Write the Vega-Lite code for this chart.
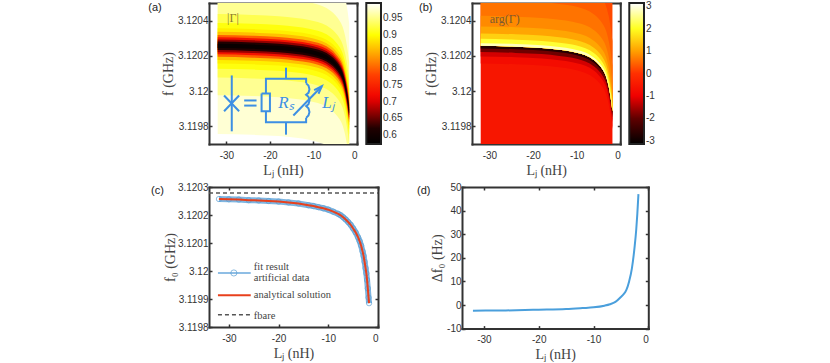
{"$schema":"https://vega.github.io/schema/vega-lite/v6.json","background":"white","padding":{"left":148,"top":2,"right":0,"bottom":0},"spacing":5,
"config":{"view":{"stroke":null},"axis":{"domainColor":"#333","domainWidth":2,"domainCap":"square","tickColor":"#333","tickWidth":1.5,"tickSize":-3,"grid":false,"labelFont":"Liberation Sans","labelFontSize":10,"labelColor":"#333","titleFont":"Liberation Serif","titleFontSize":14,"titleFontWeight":"normal","titleColor":"#444","labelPadding":4,"titlePadding":2,"zindex":1},"axisBottom":{"labelPadding":9,"titlePadding":3},"legend":{"labelFont":"Liberation Sans","labelFontSize":10,"labelColor":"#333"},"title":{"font":"Liberation Sans","fontSize":11,"fontWeight":"normal","color":"#222"}},
"datasets":{
"curve":[{"L":-32,"f":3.120257},{"L":-30,"f":3.120256},{"L":-28,"f":3.120255},{"L":-26,"f":3.120253},{"L":-24,"f":3.120252},{"L":-22,"f":3.12025},{"L":-20,"f":3.120248},{"L":-18,"f":3.120245},{"L":-16,"f":3.120241},{"L":-14,"f":3.120235},{"L":-13,"f":3.120232},{"L":-12,"f":3.120228},{"L":-11,"f":3.120224},{"L":-10,"f":3.120219},{"L":-9,"f":3.120212},{"L":-8,"f":3.120204},{"L":-7.5,"f":3.120199},{"L":-7,"f":3.120192},{"L":-6.5,"f":3.120184},{"L":-6,"f":3.120175},{"L":-5.5,"f":3.120165},{"L":-5,"f":3.120152},{"L":-4.5,"f":3.120138},{"L":-4,"f":3.12012},{"L":-3.7,"f":3.120107},{"L":-3.4,"f":3.120091},{"L":-3.1,"f":3.12007},{"L":-2.9,"f":3.120054},{"L":-2.7,"f":3.120033},{"L":-2.5,"f":3.12001},{"L":-2.35,"f":3.119992},{"L":-2.2,"f":3.119968},{"L":-2.05,"f":3.119938},{"L":-1.9,"f":3.119905},{"L":-1.8,"f":3.119885}],
"circuit":[
{"g":"j1","i":0,"L":-28.77,"f":3.120089},{"g":"j1","i":1,"L":-28.77,"f":3.119772},
{"g":"j2","i":0,"L":-30.54,"f":3.119975},{"g":"j2","i":1,"L":-27.08,"f":3.119886},
{"g":"j3","i":0,"L":-30.54,"f":3.119886},{"g":"j3","i":1,"L":-27.08,"f":3.119975},
{"g":"e1","i":0,"L":-25.92,"f":3.119947},{"g":"e1","i":1,"L":-23.08,"f":3.119947},
{"g":"e2","i":0,"L":-25.92,"f":3.119918},{"g":"e2","i":1,"L":-23.08,"f":3.119918},
{"g":"r","i":0,"L":-21.92,"f":3.119987},{"g":"r","i":1,"L":-20,"f":3.119987},{"g":"r","i":2,"L":-20,"f":3.119886},{"g":"r","i":3,"L":-21.92,"f":3.119886},{"g":"r","i":4,"L":-21.92,"f":3.119987},
{"g":"w1","i":0,"L":-20.92,"f":3.119987},{"g":"w1","i":1,"L":-20.92,"f":3.12007},{"g":"w1","i":2,"L":-11.69,"f":3.12007},{"g":"w1","i":3,"L":-11.69,"f":3.120044},
{"g":"w2","i":0,"L":-20.92,"f":3.119886},{"g":"w2","i":1,"L":-20.92,"f":3.119824},{"g":"w2","i":2,"L":-11.69,"f":3.119824},{"g":"w2","i":3,"L":-11.69,"f":3.119848},
{"g":"s1","i":0,"L":-16.31,"f":3.120133},{"g":"s1","i":1,"L":-16.31,"f":3.12007},
{"g":"s2","i":0,"L":-16.31,"f":3.119824},{"g":"s2","i":1,"L":-16.31,"f":3.119753},
{"g":"c","i":0,"L":-11.69,"f":3.120044},{"g":"c","i":1,"L":-11.15,"f":3.120032},{"g":"c","i":2,"L":-10.92,"f":3.120011},{"g":"c","i":3,"L":-11.15,"f":3.11999},{"g":"c","i":4,"L":-11.69,"f":3.119979},{"g":"c","i":5,"L":-11.15,"f":3.119968},{"g":"c","i":6,"L":-10.92,"f":3.119947},{"g":"c","i":7,"L":-11.15,"f":3.119926},{"g":"c","i":8,"L":-11.69,"f":3.119915},{"g":"c","i":9,"L":-11.15,"f":3.119903},{"g":"c","i":10,"L":-10.92,"f":3.119882},{"g":"c","i":11,"L":-11.15,"f":3.119862},{"g":"c","i":12,"L":-11.69,"f":3.119848},
{"g":"a","i":0,"L":-14.62,"f":3.119862},{"g":"a","i":1,"L":-8.08,"f":3.120028},
{"g":"h","i":0,"L":-9.85,"f":3.120006},{"g":"h","i":1,"L":-8.08,"f":3.120028},{"g":"h","i":2,"L":-8.85,"f":3.119985}]
},
"vconcat":[
{"resolve":{"scale":{"color":"independent"},"legend":{"color":"independent"}},"hconcat":[
{"width":148,"height":141,"title":{"text":"(a)","anchor":"start","frame":"group","offset":-11,"dx":-60.7},
"encoding":{"x":{"field":"L","type":"quantitative","scale":{"domain":[-34,0],"nice":false,"zero":false},"axis":null},"y":{"field":"f","type":"quantitative","scale":{"domain":[3.1197,3.1205],"nice":false,"zero":false},"axis":null}},
"resolve":{"axis":{"x":"independent","y":"independent"}},
"layer":[
{"data":{"values":[
{"L":-32,"a":3.119757,"b":3.120757,"v":0.98},{"L":-24,"a":3.119752,"b":3.120752,"v":0.98},{"L":-18,"a":3.119745,"b":3.120745,"v":0.98},{"L":-14,"a":3.119735,"b":3.120735,"v":0.98},{"L":-11,"a":3.119724,"b":3.120724,"v":0.98},{"L":-9,"a":3.119712,"b":3.120712,"v":0.98},{"L":-7,"a":3.119692,"b":3.120692,"v":0.98},{"L":-6,"a":3.119675,"b":3.120675,"v":0.98},{"L":-5,"a":3.119652,"b":3.120652,"v":0.98},{"L":-4,"a":3.11962,"b":3.12062,"v":0.98},{"L":-3.3,"a":3.119585,"b":3.120585,"v":0.98},{"L":-2.7,"a":3.11953,"b":3.12053,"v":0.98},{"L":-2.2,"a":3.11946,"b":3.12046,"v":0.98},{"L":-1.8,"a":3.119385,"b":3.120385,"v":0.98},
{"L":-32,"a":3.119977,"b":3.120537,"v":0.955},{"L":-24,"a":3.119972,"b":3.120532,"v":0.955},{"L":-18,"a":3.119965,"b":3.120525,"v":0.955},{"L":-14,"a":3.119955,"b":3.120515,"v":0.955},{"L":-11,"a":3.119944,"b":3.120504,"v":0.955},{"L":-9,"a":3.119932,"b":3.120492,"v":0.955},{"L":-7,"a":3.119912,"b":3.120472,"v":0.955},{"L":-6,"a":3.119895,"b":3.120455,"v":0.955},{"L":-5,"a":3.119872,"b":3.120432,"v":0.955},{"L":-4,"a":3.11984,"b":3.1204,"v":0.955},{"L":-3.3,"a":3.119805,"b":3.120365,"v":0.955},{"L":-2.7,"a":3.11975,"b":3.12031,"v":0.955},{"L":-2.2,"a":3.11968,"b":3.12024,"v":0.955},{"L":-1.8,"a":3.119605,"b":3.120165,"v":0.955},
{"L":-32,"a":3.120077,"b":3.120437,"v":0.93},{"L":-24,"a":3.120072,"b":3.120432,"v":0.93},{"L":-18,"a":3.120065,"b":3.120425,"v":0.93},{"L":-14,"a":3.120055,"b":3.120415,"v":0.93},{"L":-11,"a":3.120044,"b":3.120404,"v":0.93},{"L":-9,"a":3.120032,"b":3.120392,"v":0.93},{"L":-7,"a":3.120012,"b":3.120372,"v":0.93},{"L":-6,"a":3.119995,"b":3.120355,"v":0.93},{"L":-5,"a":3.119972,"b":3.120332,"v":0.93},{"L":-4,"a":3.11994,"b":3.1203,"v":0.93},{"L":-3.3,"a":3.119905,"b":3.120265,"v":0.93},{"L":-2.7,"a":3.11985,"b":3.12021,"v":0.93},{"L":-2.2,"a":3.11978,"b":3.12014,"v":0.93},{"L":-1.8,"a":3.119705,"b":3.120065,"v":0.93},
{"L":-32,"a":3.120127,"b":3.120387,"v":0.905},{"L":-24,"a":3.120122,"b":3.120382,"v":0.905},{"L":-18,"a":3.120115,"b":3.120375,"v":0.905},{"L":-14,"a":3.120105,"b":3.120365,"v":0.905},{"L":-11,"a":3.120094,"b":3.120354,"v":0.905},{"L":-9,"a":3.120082,"b":3.120342,"v":0.905},{"L":-7,"a":3.120062,"b":3.120322,"v":0.905},{"L":-6,"a":3.120045,"b":3.120305,"v":0.905},{"L":-5,"a":3.120022,"b":3.120282,"v":0.905},{"L":-4,"a":3.11999,"b":3.12025,"v":0.905},{"L":-3.3,"a":3.119955,"b":3.120215,"v":0.905},{"L":-2.7,"a":3.1199,"b":3.12016,"v":0.905},{"L":-2.2,"a":3.11983,"b":3.12009,"v":0.905},{"L":-1.8,"a":3.119755,"b":3.120015,"v":0.905},
{"L":-32,"a":3.120157,"b":3.120357,"v":0.89},{"L":-24,"a":3.120152,"b":3.120352,"v":0.89},{"L":-18,"a":3.120145,"b":3.120345,"v":0.89},{"L":-14,"a":3.120135,"b":3.120335,"v":0.89},{"L":-11,"a":3.120124,"b":3.120324,"v":0.89},{"L":-9,"a":3.120112,"b":3.120312,"v":0.89},{"L":-7,"a":3.120092,"b":3.120292,"v":0.89},{"L":-6,"a":3.120075,"b":3.120275,"v":0.89},{"L":-5,"a":3.120052,"b":3.120252,"v":0.89},{"L":-4,"a":3.12002,"b":3.12022,"v":0.89},{"L":-3.3,"a":3.119985,"b":3.120185,"v":0.89},{"L":-2.7,"a":3.11993,"b":3.12013,"v":0.89},{"L":-2.2,"a":3.11986,"b":3.12006,"v":0.89},{"L":-1.8,"a":3.119785,"b":3.119985,"v":0.89},
{"L":-32,"a":3.120177,"b":3.120337,"v":0.86},{"L":-24,"a":3.120172,"b":3.120332,"v":0.86},{"L":-18,"a":3.120165,"b":3.120325,"v":0.86},{"L":-14,"a":3.120155,"b":3.120315,"v":0.86},{"L":-11,"a":3.120144,"b":3.120304,"v":0.86},{"L":-9,"a":3.120132,"b":3.120292,"v":0.86},{"L":-7,"a":3.120112,"b":3.120272,"v":0.86},{"L":-6,"a":3.120095,"b":3.120255,"v":0.86},{"L":-5,"a":3.120072,"b":3.120232,"v":0.86},{"L":-4,"a":3.12004,"b":3.1202,"v":0.86},{"L":-3.3,"a":3.120005,"b":3.120165,"v":0.86},{"L":-2.7,"a":3.11995,"b":3.12011,"v":0.86},{"L":-2.2,"a":3.11988,"b":3.12004,"v":0.86},{"L":-1.8,"a":3.119805,"b":3.119965,"v":0.86},
{"L":-32,"a":3.120195,"b":3.120319,"v":0.8},{"L":-24,"a":3.12019,"b":3.120314,"v":0.8},{"L":-18,"a":3.120183,"b":3.120307,"v":0.8},{"L":-14,"a":3.120173,"b":3.120297,"v":0.8},{"L":-11,"a":3.120162,"b":3.120286,"v":0.8},{"L":-9,"a":3.12015,"b":3.120274,"v":0.8},{"L":-7,"a":3.12013,"b":3.120254,"v":0.8},{"L":-6,"a":3.120113,"b":3.120237,"v":0.8},{"L":-5,"a":3.12009,"b":3.120214,"v":0.8},{"L":-4,"a":3.120058,"b":3.120182,"v":0.8},{"L":-3.3,"a":3.120023,"b":3.120147,"v":0.8},{"L":-2.7,"a":3.119968,"b":3.120092,"v":0.8},{"L":-2.2,"a":3.119898,"b":3.120022,"v":0.8},{"L":-1.8,"a":3.119823,"b":3.119947,"v":0.8},
{"L":-32,"a":3.120209,"b":3.120305,"v":0.73},{"L":-24,"a":3.120204,"b":3.1203,"v":0.73},{"L":-18,"a":3.120197,"b":3.120293,"v":0.73},{"L":-14,"a":3.120187,"b":3.120283,"v":0.73},{"L":-11,"a":3.120176,"b":3.120272,"v":0.73},{"L":-9,"a":3.120164,"b":3.12026,"v":0.73},{"L":-7,"a":3.120144,"b":3.12024,"v":0.73},{"L":-6,"a":3.120127,"b":3.120223,"v":0.73},{"L":-5,"a":3.120104,"b":3.1202,"v":0.73},{"L":-4,"a":3.120072,"b":3.120168,"v":0.73},{"L":-3.3,"a":3.120037,"b":3.120133,"v":0.73},{"L":-2.7,"a":3.119982,"b":3.120078,"v":0.73},{"L":-2.2,"a":3.119912,"b":3.120008,"v":0.73},{"L":-1.8,"a":3.119837,"b":3.119933,"v":0.73},
{"L":-32,"a":3.120221,"b":3.120293,"v":0.67},{"L":-24,"a":3.120216,"b":3.120288,"v":0.67},{"L":-18,"a":3.120209,"b":3.120281,"v":0.67},{"L":-14,"a":3.120199,"b":3.120271,"v":0.67},{"L":-11,"a":3.120188,"b":3.12026,"v":0.67},{"L":-9,"a":3.120176,"b":3.120248,"v":0.67},{"L":-7,"a":3.120156,"b":3.120228,"v":0.67},{"L":-6,"a":3.120139,"b":3.120211,"v":0.67},{"L":-5,"a":3.120116,"b":3.120188,"v":0.67},{"L":-4,"a":3.120084,"b":3.120156,"v":0.67},{"L":-3.3,"a":3.120049,"b":3.120121,"v":0.67},{"L":-2.7,"a":3.119994,"b":3.120066,"v":0.67},{"L":-2.2,"a":3.119924,"b":3.119996,"v":0.67},{"L":-1.8,"a":3.119849,"b":3.119921,"v":0.67},
{"L":-32,"a":3.120233,"b":3.120281,"v":0.62},{"L":-24,"a":3.120228,"b":3.120276,"v":0.62},{"L":-18,"a":3.120221,"b":3.120269,"v":0.62},{"L":-14,"a":3.120211,"b":3.120259,"v":0.62},{"L":-11,"a":3.1202,"b":3.120248,"v":0.62},{"L":-9,"a":3.120188,"b":3.120236,"v":0.62},{"L":-7,"a":3.120168,"b":3.120216,"v":0.62},{"L":-6,"a":3.120151,"b":3.120199,"v":0.62},{"L":-5,"a":3.120128,"b":3.120176,"v":0.62},{"L":-4,"a":3.120096,"b":3.120144,"v":0.62},{"L":-3.3,"a":3.120061,"b":3.120109,"v":0.62},{"L":-2.7,"a":3.120006,"b":3.120054,"v":0.62},{"L":-2.2,"a":3.119936,"b":3.119984,"v":0.62},{"L":-1.8,"a":3.119861,"b":3.119909,"v":0.62},
{"L":-32,"a":3.120245,"b":3.120269,"v":0.585},{"L":-24,"a":3.12024,"b":3.120264,"v":0.585},{"L":-18,"a":3.120233,"b":3.120257,"v":0.585},{"L":-14,"a":3.120223,"b":3.120247,"v":0.585},{"L":-11,"a":3.120212,"b":3.120236,"v":0.585},{"L":-9,"a":3.1202,"b":3.120224,"v":0.585},{"L":-7,"a":3.12018,"b":3.120204,"v":0.585},{"L":-6,"a":3.120163,"b":3.120187,"v":0.585},{"L":-5,"a":3.12014,"b":3.120164,"v":0.585},{"L":-4,"a":3.120108,"b":3.120132,"v":0.585},{"L":-3.3,"a":3.120073,"b":3.120097,"v":0.585},{"L":-2.7,"a":3.120018,"b":3.120042,"v":0.585},{"L":-2.2,"a":3.119948,"b":3.119972,"v":0.585},{"L":-1.8,"a":3.119873,"b":3.119897,"v":0.585}
]},
"mark":{"type":"area","interpolate":"monotone","clip":true},
"encoding":{"x":{"field":"L","type":"quantitative","scale":{"domain":[-34,0],"nice":false,"zero":false},"title":"Lⱼ (nH)","axis":{"orient":"bottom","values":[-30,-20,-10,0],"labelExpr":"''+datum.value"}},
"y":{"field":"a","type":"quantitative","scale":{"domain":[3.1197,3.1205],"nice":false,"zero":false},"title":"f (GHz)","axis":{"orient":"left","values":[3.1198,3.12,3.1202,3.1204],"format":".4~f"}},
"y2":{"field":"b"},"detail":{"field":"v"},
"color":{"field":"v","type":"quantitative","scale":{"interpolate":"rgb","domain":[0.573,0.62,0.66,0.71,0.78,0.85,0.9,0.996],"range":["#000000","#200000","#800000","#f00000","#ff4000","#ffb000","#ffff00","#ffffff"]},"legend":{"orient":"none","legendX":157.3,"legendY":0,"title":null,"direction":"vertical","gradientLength":141,"gradientThickness":14.7,"gradientStrokeColor":"#222","gradientStrokeWidth":2,"values":[0.6,0.65,0.7,0.75,0.8,0.85,0.9,0.95],"format":".2~f","labelOverlap":false}}}},
{"data":{"values":[{"L":-34,"f":3.1197}]},"mark":{"type":"point","opacity":0},
"encoding":{"x":{"field":"L","type":"quantitative","scale":{"domain":[-34,0],"nice":false,"zero":false},"axis":{"orient":"top","values":[-30,-20,-10,0],"labels":false,"title":null}},"y":{"field":"f","type":"quantitative","scale":{"domain":[3.1197,3.1205],"nice":false,"zero":false},"axis":{"orient":"right","values":[3.1198,3.12,3.1202,3.1204],"labels":false,"title":null}}}},
{"data":{"name":"circuit"},"mark":{"type":"line","color":"#3d8fe3","strokeWidth":2},"encoding":{"detail":{"field":"g"},"order":{"field":"i","type":"quantitative"}}},
{"data":{"values":[{"L":-16.3,"f":3.119934,"t":"Rₛ"},{"L":-6.54,"f":3.119934,"t":"Lⱼ"}]},"mark":{"type":"text","font":"Liberation Serif","fontStyle":"italic","fontSize":17,"color":"#3d8fe3"},"encoding":{"text":{"field":"t"}}},
{"data":{"values":[{"L":-28.5,"f":3.120417,"t":"|Γ|"}]},"mark":{"type":"text","font":"Liberation Serif","fontSize":12,"color":"#8a7a30"},"encoding":{"text":{"field":"t"}}}
]},
{"width":148.3,"height":141,"title":{"text":"(b)","anchor":"start","frame":"group","offset":-11,"dx":-53},
"encoding":{"x":{"field":"L","type":"quantitative","scale":{"domain":[-34,0],"nice":false,"zero":false},"axis":null},"y":{"field":"f","type":"quantitative","scale":{"domain":[3.1197,3.1205],"nice":false,"zero":false},"axis":null}},
"resolve":{"axis":{"x":"independent","y":"independent"}},
"layer":[
{"data":{"values":[
{"L":-32,"a":3.1197,"b":3.120257,"v":-0.55},{"L":-24,"a":3.1197,"b":3.120252,"v":-0.55},{"L":-18,"a":3.1197,"b":3.120245,"v":-0.55},{"L":-14,"a":3.1197,"b":3.120235,"v":-0.55},{"L":-11,"a":3.1197,"b":3.120224,"v":-0.55},{"L":-9,"a":3.1197,"b":3.120212,"v":-0.55},{"L":-7,"a":3.1197,"b":3.120192,"v":-0.55},{"L":-6,"a":3.1197,"b":3.120175,"v":-0.55},{"L":-5,"a":3.1197,"b":3.120152,"v":-0.55},{"L":-4,"a":3.1197,"b":3.12012,"v":-0.55},{"L":-3.3,"a":3.1197,"b":3.120085,"v":-0.55},{"L":-2.7,"a":3.1197,"b":3.12003,"v":-0.55},{"L":-2.2,"a":3.1197,"b":3.11996,"v":-0.55},{"L":-1.8,"a":3.1197,"b":3.119885,"v":-0.55},
{"L":-32,"a":3.120157,"b":3.120257,"v":-0.75},{"L":-24,"a":3.120152,"b":3.120252,"v":-0.75},{"L":-18,"a":3.120145,"b":3.120245,"v":-0.75},{"L":-14,"a":3.120135,"b":3.120235,"v":-0.75},{"L":-11,"a":3.120124,"b":3.120224,"v":-0.75},{"L":-9,"a":3.120112,"b":3.120212,"v":-0.75},{"L":-7,"a":3.120092,"b":3.120192,"v":-0.75},{"L":-6,"a":3.120075,"b":3.120175,"v":-0.75},{"L":-5,"a":3.120052,"b":3.120152,"v":-0.75},{"L":-4,"a":3.12002,"b":3.12012,"v":-0.75},{"L":-3.3,"a":3.119985,"b":3.120085,"v":-0.75},{"L":-2.7,"a":3.11993,"b":3.12003,"v":-0.75},{"L":-2.2,"a":3.11986,"b":3.11996,"v":-0.75},{"L":-1.8,"a":3.119785,"b":3.119885,"v":-0.75},
{"L":-32,"a":3.120197,"b":3.120257,"v":-1.2},{"L":-24,"a":3.120192,"b":3.120252,"v":-1.2},{"L":-18,"a":3.120185,"b":3.120245,"v":-1.2},{"L":-14,"a":3.120175,"b":3.120235,"v":-1.2},{"L":-11,"a":3.120164,"b":3.120224,"v":-1.2},{"L":-9,"a":3.120152,"b":3.120212,"v":-1.2},{"L":-7,"a":3.120132,"b":3.120192,"v":-1.2},{"L":-6,"a":3.120115,"b":3.120175,"v":-1.2},{"L":-5,"a":3.120092,"b":3.120152,"v":-1.2},{"L":-4,"a":3.12006,"b":3.12012,"v":-1.2},{"L":-3.3,"a":3.120025,"b":3.120085,"v":-1.2},{"L":-2.7,"a":3.11997,"b":3.12003,"v":-1.2},{"L":-2.2,"a":3.1199,"b":3.11996,"v":-1.2},{"L":-1.8,"a":3.119825,"b":3.119885,"v":-1.2},
{"L":-32,"a":3.120222,"b":3.120257,"v":-1.9},{"L":-24,"a":3.120217,"b":3.120252,"v":-1.9},{"L":-18,"a":3.12021,"b":3.120245,"v":-1.9},{"L":-14,"a":3.1202,"b":3.120235,"v":-1.9},{"L":-11,"a":3.120189,"b":3.120224,"v":-1.9},{"L":-9,"a":3.120177,"b":3.120212,"v":-1.9},{"L":-7,"a":3.120157,"b":3.120192,"v":-1.9},{"L":-6,"a":3.12014,"b":3.120175,"v":-1.9},{"L":-5,"a":3.120117,"b":3.120152,"v":-1.9},{"L":-4,"a":3.120085,"b":3.12012,"v":-1.9},{"L":-3.3,"a":3.12005,"b":3.120085,"v":-1.9},{"L":-2.7,"a":3.119995,"b":3.12003,"v":-1.9},{"L":-2.2,"a":3.119925,"b":3.11996,"v":-1.9},{"L":-1.8,"a":3.11985,"b":3.119885,"v":-1.9},
{"L":-32,"a":3.120242,"b":3.120257,"v":-2.7},{"L":-24,"a":3.120237,"b":3.120252,"v":-2.7},{"L":-18,"a":3.12023,"b":3.120245,"v":-2.7},{"L":-14,"a":3.12022,"b":3.120235,"v":-2.7},{"L":-11,"a":3.120209,"b":3.120224,"v":-2.7},{"L":-9,"a":3.120197,"b":3.120212,"v":-2.7},{"L":-7,"a":3.120177,"b":3.120192,"v":-2.7},{"L":-6,"a":3.12016,"b":3.120175,"v":-2.7},{"L":-5,"a":3.120137,"b":3.120152,"v":-2.7},{"L":-4,"a":3.120105,"b":3.12012,"v":-2.7},{"L":-3.3,"a":3.12007,"b":3.120085,"v":-2.7},{"L":-2.7,"a":3.120015,"b":3.12003,"v":-2.7},{"L":-2.2,"a":3.119945,"b":3.11996,"v":-2.7},{"L":-1.8,"a":3.11987,"b":3.119885,"v":-2.7},
{"L":-32,"a":3.120257,"b":3.1205,"v":0.22},{"L":-24,"a":3.120252,"b":3.1205,"v":0.22},{"L":-18,"a":3.120245,"b":3.1205,"v":0.22},{"L":-14,"a":3.120235,"b":3.1205,"v":0.22},{"L":-11,"a":3.120224,"b":3.1205,"v":0.22},{"L":-9,"a":3.120212,"b":3.1205,"v":0.22},{"L":-7,"a":3.120192,"b":3.1205,"v":0.22},{"L":-6,"a":3.120175,"b":3.1205,"v":0.22},{"L":-5,"a":3.120152,"b":3.1205,"v":0.22},{"L":-4,"a":3.12012,"b":3.1205,"v":0.22},{"L":-3.3,"a":3.120085,"b":3.1205,"v":0.22},{"L":-2.7,"a":3.12003,"b":3.1205,"v":0.22},{"L":-2.2,"a":3.11996,"b":3.1205,"v":0.22},{"L":-1.8,"a":3.119885,"b":3.1205,"v":0.22},
{"L":-32,"a":3.120257,"b":3.120657,"v":0.4},{"L":-24,"a":3.120252,"b":3.120652,"v":0.4},{"L":-18,"a":3.120245,"b":3.120645,"v":0.4},{"L":-14,"a":3.120235,"b":3.120635,"v":0.4},{"L":-11,"a":3.120224,"b":3.120624,"v":0.4},{"L":-9,"a":3.120212,"b":3.120612,"v":0.4},{"L":-7,"a":3.120192,"b":3.120592,"v":0.4},{"L":-6,"a":3.120175,"b":3.120575,"v":0.4},{"L":-5,"a":3.120152,"b":3.120552,"v":0.4},{"L":-4,"a":3.12012,"b":3.12052,"v":0.4},{"L":-3.3,"a":3.120085,"b":3.120485,"v":0.4},{"L":-2.7,"a":3.12003,"b":3.12043,"v":0.4},{"L":-2.2,"a":3.11996,"b":3.12036,"v":0.4},{"L":-1.8,"a":3.119885,"b":3.120285,"v":0.4},
{"L":-32,"a":3.120257,"b":3.120517,"v":0.6},{"L":-24,"a":3.120252,"b":3.120512,"v":0.6},{"L":-18,"a":3.120245,"b":3.120505,"v":0.6},{"L":-14,"a":3.120235,"b":3.120495,"v":0.6},{"L":-11,"a":3.120224,"b":3.120484,"v":0.6},{"L":-9,"a":3.120212,"b":3.120472,"v":0.6},{"L":-7,"a":3.120192,"b":3.120452,"v":0.6},{"L":-6,"a":3.120175,"b":3.120435,"v":0.6},{"L":-5,"a":3.120152,"b":3.120412,"v":0.6},{"L":-4,"a":3.12012,"b":3.12038,"v":0.6},{"L":-3.3,"a":3.120085,"b":3.120345,"v":0.6},{"L":-2.7,"a":3.12003,"b":3.12029,"v":0.6},{"L":-2.2,"a":3.11996,"b":3.12022,"v":0.6},{"L":-1.8,"a":3.119885,"b":3.120145,"v":0.6},
{"L":-32,"a":3.120257,"b":3.120427,"v":0.8},{"L":-24,"a":3.120252,"b":3.120422,"v":0.8},{"L":-18,"a":3.120245,"b":3.120415,"v":0.8},{"L":-14,"a":3.120235,"b":3.120405,"v":0.8},{"L":-11,"a":3.120224,"b":3.120394,"v":0.8},{"L":-9,"a":3.120212,"b":3.120382,"v":0.8},{"L":-7,"a":3.120192,"b":3.120362,"v":0.8},{"L":-6,"a":3.120175,"b":3.120345,"v":0.8},{"L":-5,"a":3.120152,"b":3.120322,"v":0.8},{"L":-4,"a":3.12012,"b":3.12029,"v":0.8},{"L":-3.3,"a":3.120085,"b":3.120255,"v":0.8},{"L":-2.7,"a":3.12003,"b":3.1202,"v":0.8},{"L":-2.2,"a":3.11996,"b":3.12013,"v":0.8},{"L":-1.8,"a":3.119885,"b":3.120055,"v":0.8},
{"L":-32,"a":3.120257,"b":3.120367,"v":1.05},{"L":-24,"a":3.120252,"b":3.120362,"v":1.05},{"L":-18,"a":3.120245,"b":3.120355,"v":1.05},{"L":-14,"a":3.120235,"b":3.120345,"v":1.05},{"L":-11,"a":3.120224,"b":3.120334,"v":1.05},{"L":-9,"a":3.120212,"b":3.120322,"v":1.05},{"L":-7,"a":3.120192,"b":3.120302,"v":1.05},{"L":-6,"a":3.120175,"b":3.120285,"v":1.05},{"L":-5,"a":3.120152,"b":3.120262,"v":1.05},{"L":-4,"a":3.12012,"b":3.12023,"v":1.05},{"L":-3.3,"a":3.120085,"b":3.120195,"v":1.05},{"L":-2.7,"a":3.12003,"b":3.12014,"v":1.05},{"L":-2.2,"a":3.11996,"b":3.12007,"v":1.05},{"L":-1.8,"a":3.119885,"b":3.119995,"v":1.05},
{"L":-32,"a":3.120257,"b":3.120327,"v":1.5},{"L":-24,"a":3.120252,"b":3.120322,"v":1.5},{"L":-18,"a":3.120245,"b":3.120315,"v":1.5},{"L":-14,"a":3.120235,"b":3.120305,"v":1.5},{"L":-11,"a":3.120224,"b":3.120294,"v":1.5},{"L":-9,"a":3.120212,"b":3.120282,"v":1.5},{"L":-7,"a":3.120192,"b":3.120262,"v":1.5},{"L":-6,"a":3.120175,"b":3.120245,"v":1.5},{"L":-5,"a":3.120152,"b":3.120222,"v":1.5},{"L":-4,"a":3.12012,"b":3.12019,"v":1.5},{"L":-3.3,"a":3.120085,"b":3.120155,"v":1.5},{"L":-2.7,"a":3.12003,"b":3.1201,"v":1.5},{"L":-2.2,"a":3.11996,"b":3.12003,"v":1.5},{"L":-1.8,"a":3.119885,"b":3.119955,"v":1.5},
{"L":-32,"a":3.120257,"b":3.120297,"v":2.1},{"L":-24,"a":3.120252,"b":3.120292,"v":2.1},{"L":-18,"a":3.120245,"b":3.120285,"v":2.1},{"L":-14,"a":3.120235,"b":3.120275,"v":2.1},{"L":-11,"a":3.120224,"b":3.120264,"v":2.1},{"L":-9,"a":3.120212,"b":3.120252,"v":2.1},{"L":-7,"a":3.120192,"b":3.120232,"v":2.1},{"L":-6,"a":3.120175,"b":3.120215,"v":2.1},{"L":-5,"a":3.120152,"b":3.120192,"v":2.1},{"L":-4,"a":3.12012,"b":3.12016,"v":2.1},{"L":-3.3,"a":3.120085,"b":3.120125,"v":2.1},{"L":-2.7,"a":3.12003,"b":3.12007,"v":2.1},{"L":-2.2,"a":3.11996,"b":3.12,"v":2.1},{"L":-1.8,"a":3.119885,"b":3.119925,"v":2.1},
{"L":-32,"a":3.120257,"b":3.120272,"v":2.8},{"L":-24,"a":3.120252,"b":3.120267,"v":2.8},{"L":-18,"a":3.120245,"b":3.12026,"v":2.8},{"L":-14,"a":3.120235,"b":3.12025,"v":2.8},{"L":-11,"a":3.120224,"b":3.120239,"v":2.8},{"L":-9,"a":3.120212,"b":3.120227,"v":2.8},{"L":-7,"a":3.120192,"b":3.120207,"v":2.8},{"L":-6,"a":3.120175,"b":3.12019,"v":2.8},{"L":-5,"a":3.120152,"b":3.120167,"v":2.8},{"L":-4,"a":3.12012,"b":3.120135,"v":2.8},{"L":-3.3,"a":3.120085,"b":3.1201,"v":2.8},{"L":-2.7,"a":3.12003,"b":3.120045,"v":2.8},{"L":-2.2,"a":3.11996,"b":3.119975,"v":2.8},{"L":-1.8,"a":3.119885,"b":3.1199,"v":2.8}
]},
"mark":{"type":"area","interpolate":"monotone","clip":true},
"encoding":{"x":{"field":"L","type":"quantitative","scale":{"domain":[-34,0],"nice":false,"zero":false},"title":"Lⱼ (nH)","axis":{"orient":"bottom","values":[-30,-20,-10,0],"labelExpr":"''+datum.value"}},
"y":{"field":"a","type":"quantitative","scale":{"domain":[3.1197,3.1205],"nice":false,"zero":false},"title":"f (GHz)","axis":{"orient":"left","values":[3.1198,3.12,3.1202,3.1204],"format":".4~f"}},
"y2":{"field":"b"},"detail":{"field":"v"},
"color":{"field":"v","type":"quantitative","scale":{"interpolate":"rgb","domain":[-3.14,-2,-1,0,1,2,3.14],"range":["#000000","#600000","#f00000","#ff3000","#ffa000","#ffff20","#ffffff"]},"legend":{"orient":"none","legendX":157.3,"legendY":0,"title":null,"direction":"vertical","gradientLength":141,"gradientThickness":14.7,"gradientStrokeColor":"#222","gradientStrokeWidth":2,"values":[-3,-2,-1,0,1,2,3],"labelExpr":"''+datum.value","labelOverlap":false}}}},
{"data":{"values":[{"L":-34,"f":3.1197}]},"mark":{"type":"point","opacity":0},
"encoding":{"x":{"field":"L","type":"quantitative","scale":{"domain":[-34,0],"nice":false,"zero":false},"axis":{"orient":"top","values":[-30,-20,-10,0],"labels":false,"title":null}},"y":{"field":"f","type":"quantitative","scale":{"domain":[3.1197,3.1205],"nice":false,"zero":false},"axis":{"orient":"right","values":[3.1198,3.12,3.1202,3.1204],"labels":false,"title":null}}}},
{"data":{"values":[{"L":-26.5,"f":3.120408,"t":"arg(Γ)"}]},"mark":{"type":"text","font":"Liberation Serif","fontSize":12,"color":"#7a5a30"},"encoding":{"text":{"field":"t"}}}
]}
],"spacing":15},
{"hconcat":[
{"width":169,"height":140,"title":{"text":"(c)","anchor":"start","frame":"group","offset":-14,"dx":-58},
"encoding":{"x":{"field":"L","type":"quantitative","scale":{"domain":[-34,0],"nice":false,"zero":false},"axis":null},"y":{"field":"f","type":"quantitative","scale":{"domain":[3.1198,3.1203],"nice":false,"zero":false},"axis":null}},
"resolve":{"axis":{"x":"independent","y":"independent"}},
"layer":[
{"data":{"name":"curve"},"mark":{"type":"line","color":"#6aa9dc","strokeWidth":6,"opacity":0.85},
"encoding":{"x":{"field":"L","type":"quantitative","scale":{"domain":[-34,0],"nice":false,"zero":false},"title":"Lⱼ (nH)","axis":{"orient":"bottom","values":[-30,-20,-10,0],"labelExpr":"''+datum.value"}},
"y":{"field":"f","type":"quantitative","scale":{"domain":[3.1198,3.1203],"nice":false,"zero":false},"title":"f₀ (GHz)","axis":{"orient":"left","values":[3.1198,3.1199,3.12,3.1201,3.1202,3.1203],"format":".4~f","titlePadding":0}}}},
{"data":{"values":[{"L":-34,"f":3.1198}]},"mark":{"type":"point","opacity":0},
"encoding":{"x":{"field":"L","type":"quantitative","scale":{"domain":[-34,0],"nice":false,"zero":false},"axis":{"orient":"top","values":[-30,-20,-10,0],"labels":false,"title":null}},"y":{"field":"f","type":"quantitative","scale":{"domain":[3.1198,3.1203],"nice":false,"zero":false},"axis":{"orient":"right","values":[3.1198,3.1199,3.12,3.1201,3.1202,3.1203],"labels":false,"title":null}}}},
{"data":{"name":"curve"},"mark":{"type":"point","shape":"circle","filled":false,"size":28,"color":"#5b9fd4","strokeWidth":1}},
{"data":{"name":"curve"},"mark":{"type":"line","color":"#e8401c","strokeWidth":2}},
{"data":{"values":[{"L":-34,"f":3.120279},{"L":0,"f":3.120279}]},"mark":{"type":"line","color":"#555","strokeWidth":1.5,"strokeDash":[4,3]}},
{"data":{"values":[{"L":-32.2,"f":3.119993},{"L":-25.6,"f":3.119993}]},"mark":{"type":"line","color":"#6aa9dc","strokeWidth":1.5}},
{"data":{"values":[{"L":-29,"f":3.119993}]},"mark":{"type":"point","shape":"circle","filled":false,"size":38,"color":"#5b9fd4","strokeWidth":1}},
{"data":{"values":[{"L":-32.2,"f":3.119913},{"L":-25.6,"f":3.119913}]},"mark":{"type":"line","color":"#e8401c","strokeWidth":2}},
{"data":{"values":[{"L":-32.2,"f":3.119844},{"L":-25.6,"f":3.119844}]},"mark":{"type":"line","color":"#555","strokeWidth":1.5,"strokeDash":[4,3]}},
{"data":{"values":[{"L":-25,"f":3.120016,"t":"fit result"},{"L":-25,"f":3.119974,"t":"artificial data"},{"L":-25,"f":3.119913,"t":"analytical solution"},{"L":-25,"f":3.119841,"t":"fbare"}]},"mark":{"type":"text","align":"left","font":"Liberation Serif","fontSize":10.5,"color":"#444"},"encoding":{"text":{"field":"t"}}}
]},
{"width":186.3,"height":141.6,"title":{"text":"(d)","anchor":"start","frame":"group","offset":-14,"dx":-45},
"encoding":{"x":{"field":"L","type":"quantitative","scale":{"domain":[-34,0],"nice":false,"zero":false},"axis":null},"y":{"field":"d","type":"quantitative","scale":{"domain":[-10,50],"nice":false,"zero":false},"axis":null}},
"resolve":{"axis":{"x":"independent","y":"independent"}},
"layer":[
{"data":{"values":[{"L":-32,"d":-2.4},{"L":-26,"d":-2.3},{"L":-20,"d":-2},{"L":-15,"d":-1.7},{"L":-12,"d":-1.3},{"L":-10,"d":-1},{"L":-8,"d":-0.3},{"L":-7,"d":0.3},{"L":-6,"d":1.3},{"L":-5,"d":3.4},{"L":-4.5,"d":4.6},{"L":-4,"d":6.4},{"L":-3.5,"d":10},{"L":-3,"d":15.4},{"L":-2.5,"d":24.6},{"L":-2.2,"d":32},{"L":-2,"d":38.7},{"L":-1.8,"d":47}]},
"mark":{"type":"line","color":"#4a9fdc","strokeWidth":2,"interpolate":"monotone"},
"encoding":{"x":{"field":"L","type":"quantitative","scale":{"domain":[-34,0],"nice":false,"zero":false},"title":"Lⱼ (nH)","axis":{"orient":"bottom","values":[-30,-20,-10,0],"labelExpr":"''+datum.value"}},
"y":{"field":"d","type":"quantitative","scale":{"domain":[-10,50],"nice":false,"zero":false},"title":"Δf₀ (Hz)","axis":{"orient":"left","values":[-10,0,10,20,30,40,50],"labelExpr":"''+datum.value"}}}},
{"data":{"values":[{"L":-34,"d":-10}]},"mark":{"type":"point","opacity":0},
"encoding":{"x":{"field":"L","type":"quantitative","scale":{"domain":[-34,0],"nice":false,"zero":false},"axis":{"orient":"top","values":[-30,-20,-10,0],"labels":false,"title":null}},"y":{"field":"d","type":"quantitative","scale":{"domain":[-10,50],"nice":false,"zero":false},"axis":{"orient":"right","values":[-10,0,10,20,30,40,50],"labels":false,"title":null}}}}
]}
],"spacing":35}
]}
